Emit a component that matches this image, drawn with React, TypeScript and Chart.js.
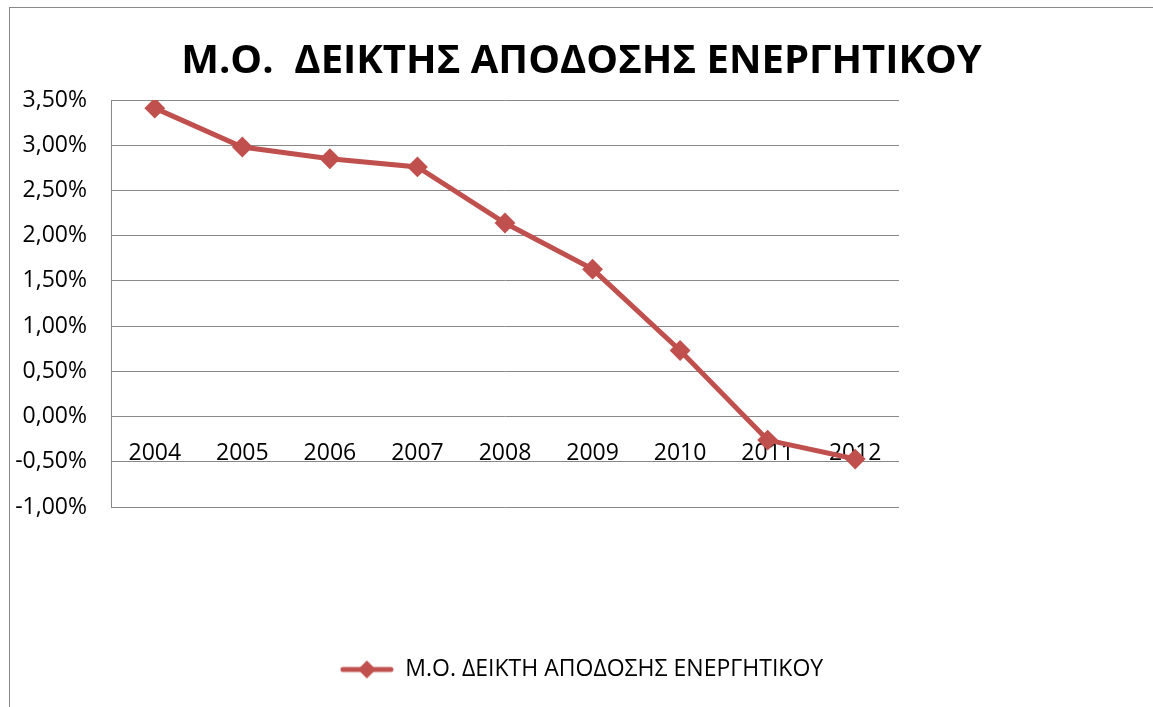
import { useEffect, useRef } from 'react';
import { Chart, registerables } from 'chart.js';

Chart.register(...registerables);

const years = ['2004', '2005', '2006', '2007', '2008', '2009', '2010', '2011', '2012'];
const values = [3.41, 2.98, 2.85, 2.76, 2.14, 1.63, 0.73, -0.26, -0.47];
const yMin = -1;
const yMax = 3.5;
const yStep = 0.5;
const titleText = 'Μ.Ο.  ΔΕΙΚΤΗΣ ΑΠΟΔΟΣΗΣ ΕΝΕΡΓΗΤΙΚΟΥ';
const seriesName = 'Μ.Ο. ΔΕΙΚΤΗ ΑΠΟΔΟΣΗΣ ΕΝΕΡΓΗΤΙΚΟΥ';

const RED = '#C0504D';
const GRID = '#888888';
const FONT = "'Open Sans', 'DejaVu Sans', sans-serif";

function makeLegendMarker(): HTMLCanvasElement {
  const c = document.createElement('canvas');
  c.width = 54;
  c.height = 22;
  const ctx = c.getContext('2d')!;
  ctx.strokeStyle = RED;
  ctx.fillStyle = RED;
  ctx.lineWidth = 5;
  ctx.lineCap = 'round';
  ctx.beginPath();
  ctx.moveTo(3, 11);
  ctx.lineTo(51, 11);
  ctx.stroke();
  ctx.beginPath();
  ctx.moveTo(27 - 9, 11);
  ctx.lineTo(27, 11 - 9);
  ctx.lineTo(27 + 9, 11);
  ctx.lineTo(27, 11 + 9);
  ctx.closePath();
  ctx.fill();
  return c;
}

export default function App() {
  const ref = useRef<HTMLCanvasElement>(null);

  useEffect(() => {
    if (!ref.current) return;
    const marker = makeLegendMarker();
    const chart = new Chart(ref.current, {
      type: 'line',
      data: {
        labels: years,
        datasets: [
          {
            label: seriesName,
            data: values,
            borderColor: RED,
            backgroundColor: RED,
            borderWidth: 5,
            pointStyle: 'rectRot',
            pointRadius: 9,
            pointBorderWidth: 2,
            pointBackgroundColor: RED,
            pointBorderColor: RED,
            tension: 0,
            fill: false,
          },
        ],
      },
      options: {
        responsive: false,
        animation: false,
        layout: { padding: { left: 0, right: 0, top: 0, bottom: 16 } },
        scales: {
          x: {
            type: 'category',
            position: { y: 0 } as any,
            offset: true,
            grid: { display: false, drawTicks: false },
            border: { display: false },
            ticks: {
              font: { family: FONT, size: 23 },
              color: '#000',
              padding: 23,
              maxRotation: 0,
              autoSkip: false,
            },
            afterFit: (s: any) => {
              s.height = 0;
            },
          },
          y: {
            type: 'linear',
            position: 'left',
            min: yMin,
            max: yMax,
            ticks: {
              stepSize: yStep,
              font: { family: FONT, size: 23 },
              color: '#000',
              padding: 24,
              callback: (v: any) => Number(v).toFixed(2).replace('.', ',') + '%',
            },
            grid: { color: GRID, lineWidth: 1, drawTicks: false },
            border: { color: GRID, width: 1 },
            afterFit: (s: any) => {
              s.width = 101;
            },
          },
          y2: {
            type: 'linear',
            position: 'right',
            grid: { display: false },
            border: { display: false },
            ticks: { display: false },
            afterFit: (s: any) => {
              s.width = 254;
            },
          },
        },
        plugins: {
          title: {
            display: true,
            text: titleText,
            color: '#000',
            font: { family: FONT, size: 40, weight: 'bold' },
            padding: { top: 30, bottom: 14 },
          },
          legend: {
            display: true,
            position: 'bottom',
            title: {
              display: true,
              text: '',
              font: { size: 10 },
              padding: { top: 0, bottom: 129 },
            },
            labels: {
              usePointStyle: true,
              pointStyle: marker as any,
              pointStyleWidth: 54,
              font: { family: FONT, size: 23 },
              color: '#000',
              padding: 10,
            },
          },
          tooltip: { enabled: false },
        },
      },
    });
    return () => chart.destroy();
  }, []);

  return (
    <div
      style={{
        position: 'absolute',
        left: 9,
        top: 7,
        width: 1144,
        height: 700,
        borderTop: `1px solid ${GRID}`,
        borderLeft: `1px solid ${GRID}`,
        background: '#fff',
        overflow: 'hidden',
      }}
    >
      <canvas ref={ref} width={1143} height={699} style={{ display: 'block' }} />
    </div>
  );
}
